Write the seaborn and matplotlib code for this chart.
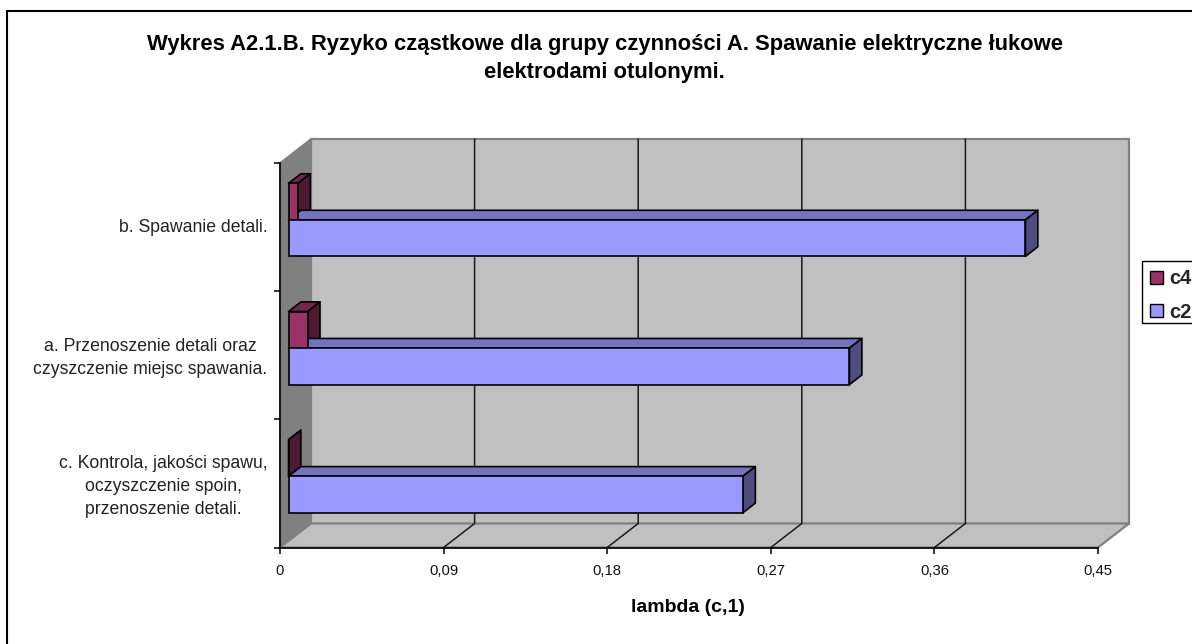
import matplotlib
matplotlib.use("Agg")
import matplotlib.pyplot as plt
from matplotlib.patches import Polygon, Rectangle, Patch
from matplotlib.transforms import ScaledTranslation
import pandas as pd
import seaborn as sns

categories = ["b. Spawanie detali.",
              "a. Przenoszenie detali oraz\nczyszczenie miejsc spawania.",
              "c. Kontrola, jakości spawu,\noczyszczenie spoin,\nprzenoszenie detali."]
c4_values = [0.0052, 0.0105, 0.0]
c2_values = [0.4054, 0.3086, 0.25]
series_names = ["c4", "c2"]
x_ticks = [0, 0.09, 0.18, 0.27, 0.36, 0.45]
x_tick_labels = ["0", "0,09", "0,18", "0,27", "0,36", "0,45"]
title = "Wykres A2.1.B. Ryzyko cząstkowe dla grupy czynności A. Spawanie elektryczne łukowe\nelektrodami otulonymi."
x_label = "lambda (c,1)"

W, H = 1192, 644
sns.set_theme(style="white")
plt.rcParams["font.family"] = ["Liberation Sans", "DejaVu Sans"]

fig = plt.figure(figsize=(W / 100, H / 100), dpi=100, facecolor="white")
L, R, T, B = 280, 1098, 163, 547.5
ax = fig.add_axes([L / W, 1 - B / H, (R - L) / W, (B - T) / H])
ax.patch.set_alpha(0)

df = pd.DataFrame({
    "cat": categories * 2,
    "val": c4_values + c2_values,
    "series": [series_names[0]] * 3 + [series_names[1]] * 3,
})
front = {"c4": "#993366", "c2": "#9999FF"}
tops = {"c4": "#732650", "c2": "#7373BF"}
sides = {"c4": "#4D1933", "c2": "#4D4D80"}
sns.barplot(data=df, y="cat", x="val", hue="series", order=categories,
            hue_order=series_names, palette=front, orient="h", width=0.57,
            gap=0, dodge=True, ax=ax, legend=False, saturation=1,
            edgecolor="black", linewidth=1.2, zorder=3)

xmax = x_ticks[-1]
ax.set_xlim(0, xmax)
ax.set_ylim(2.5, -0.5)
ax.autoscale(False)
px_x = xmax / (R - L)       # data units per pixel
px_y = 3 / (B - T)

# chart box depth
D, E = 31 * px_x, 24 * px_y
wall_edge = "#808080"
ax.add_patch(Polygon([(0, 2.5), (0, -0.5), (D, -0.5 - E), (D, 2.5 - E)], closed=True,
                     fc="#808080", ec="#808080", lw=1.2, clip_on=False, zorder=0.5))
ax.add_patch(Polygon([(D, -0.5 - E), (xmax + D, -0.5 - E), (xmax + D, 2.5 - E), (D, 2.5 - E)], closed=True,
                     fc="#C0C0C0", ec=wall_edge, lw=1.6, clip_on=False, zorder=0.5))
ax.add_patch(Polygon([(0, 2.5), (xmax, 2.5), (xmax + D, 2.5 - E), (D, 2.5 - E)], closed=True,
                     fc="#C0C0C0", ec=wall_edge, lw=1.6, clip_on=False, zorder=0.6))
for xt in x_ticks[1:-1]:
    ax.plot([xt, xt + D, xt + D], [2.5, 2.5 - E, -0.5 - E], color="#1a1a1a", lw=1.1,
            clip_on=False, zorder=0.8, solid_joinstyle="miter")

# depth of the bars
ox, oy = 8.5 * px_x, 7.2 * px_y
dx, dy = 12.4 * px_x, 9.6 * px_y
for name, cont in zip(series_names, ax.containers):
    for bar in cont:
        bar.set_x(bar.get_x() + ox)
        bar.set_y(bar.get_y() - oy)
        x0, y0, w, h = bar.get_x(), bar.get_y(), bar.get_width(), bar.get_height()
        z = bar.get_zorder()
        ax.add_patch(Polygon([(x0, y0), (x0 + w, y0), (x0 + w + dx, y0 - dy), (x0 + dx, y0 - dy)],
                             closed=True, fc=tops[name], ec="black", lw=1.2, clip_on=False,
                             zorder=z, joinstyle="round"))
        ax.add_patch(Polygon([(x0 + w, y0), (x0 + w, y0 + h), (x0 + w + dx, y0 + h - dy), (x0 + w + dx, y0 - dy)],
                             closed=True, fc=sides[name], ec="black", lw=1.2, clip_on=False,
                             zorder=z, joinstyle="round"))
for cont in ax.containers:
    for bar in cont:
        bar.set_zorder(3.1)

# axes
for s in ("top", "right"):
    ax.spines[s].set_visible(False)
for s in ("left", "bottom"):
    ax.spines[s].set_color("black")
    ax.spines[s].set_linewidth(1.2)
    ax.spines[s].set_visible(True)
ax.set_xticks(x_ticks)
ax.set_xticklabels(x_tick_labels, fontsize=10.7, color="#111111")
ax.set_yticks(range(3))
ax.set_yticklabels(categories, fontsize=12.7, color="#222222", multialignment="center", linespacing=1.45)
ax.set_yticks([-0.5, 0.5, 1.5, 2.5], minor=True)
ax.tick_params(axis="x", which="major", direction="out", length=4.5, width=1.1, color="black",
               bottom=True, pad=7.5)
ax.tick_params(axis="y", which="major", left=False, pad=3)
ax.tick_params(axis="y", which="minor", direction="out", length=4.5, width=1.1, color="black", left=True)
ax.set_xlabel("")
ax.set_ylabel("")
for lab in ax.get_yticklabels():
    lab.set_transform(lab.get_transform() + ScaledTranslation(0, 1.5 / 72, fig.dpi_scale_trans))

fig.text(604.5 / W, 1 - 58.5 / H, title, ha="center", va="center", fontsize=15.85,
         fontweight="bold", color="black", linespacing=1.41)
fig.text(688 / W, 1 - 607 / H, x_label, ha="center", va="center", fontsize=14,
         fontweight="bold", color="black")

# outer frame: runs off the right and bottom edges
fig.add_artist(Rectangle((7.5 / W, 1 - 700 / H), 1300 / W, (700 - 11) / H, transform=fig.transFigure,
                         fc="none", ec="black", lw=1.5, clip_on=True))

# legend box, also running off the right edge
fig.add_artist(Rectangle((1142 / W, 1 - 323.3 / H), 100 / W, (323.3 - 260.7) / H, transform=fig.transFigure,
                         fc="white", ec="black", lw=1.0))
handles = [Patch(fc=front[n], ec="black", lw=1.0, label=n) for n in series_names]
leg = fig.legend(handles=handles, loc="upper left", bbox_to_anchor=(1142 / W, 1 - 261.4 / H),
                 bbox_transform=fig.transFigure, frameon=False,
                 prop={"size": 14.5, "weight": "bold"},
                 handlelength=0.64, handleheight=0.64, handletextpad=0.3, labelspacing=0.72,
                 borderpad=0.39, borderaxespad=0)

fig.savefig("out.png", dpi=100, facecolor="white")
